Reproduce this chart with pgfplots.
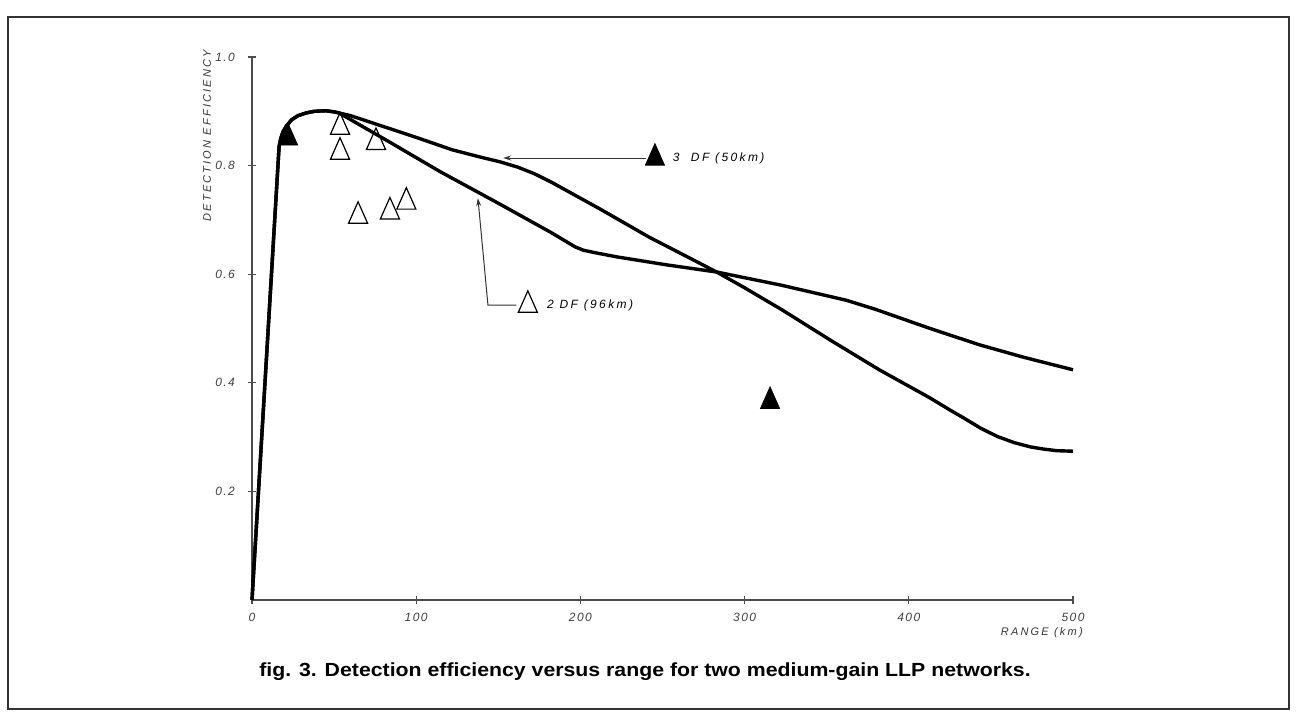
\documentclass[border=0pt]{standalone}
\usepackage{pgfplots}
\pgfplotsset{compat=1.18}
\usetikzlibrary{arrows.meta}
\usepackage{fontspec}
\setmainfont{Liberation Sans}
\newfontfamily\tickfont[LetterSpace=12]{Liberation Sans}
\newfontfamily\spaced[LetterSpace=20]{Liberation Sans}
\begin{document}
\begin{tikzpicture}
\begin{axis}[
  at={(0,0)}, anchor=south west,
  scale only axis, width=410.5pt, height=271.5pt,
  xmin=0, xmax=500, ymin=0, ymax=1,
  axis lines*=left,
  axis line style={black!70, line width=0.6pt},
  xtick={0,100,...,500}, ytick={0.2,0.4,0.6,0.8,1.0},
  tick align=center, major tick length=4pt,
  tick style={black!70, line width=0.6pt},
  /pgf/number format/assume math mode=true,
  ticklabel style={font=\tickfont\itshape\fontsize{6}{7}\selectfont, text=black!75},
  yticklabel style={/pgf/number format/.cd, fixed, fixed zerofill, precision=1, /tikz/.cd, xshift=-3pt},
  xticklabel style={yshift=-1pt},
  clip=false,
]
% 3 DF (50 km) curve
\addplot[black, line width=1.7pt, line join=round] coordinates {
(0,0) (16.5,0.835) (17.5,0.850) (19,0.863) (21,0.873) (24,0.884) (28,0.892) (33,0.897)
(38,0.900) (45,0.901) (50,0.899) (53,0.897)
(60,0.892) (74,0.878) (100,0.852) (122,0.829) (140,0.815) (151,0.807) (162,0.797) (172,0.785)
(182,0.770) (197,0.745) (212,0.720) (242,0.668) (260,0.640) (283,0.604) (300,0.575) (323,0.534)
(352,0.479) (382,0.424) (413,0.372) (425,0.350) (433,0.336) (444,0.316) (454,0.301) (464,0.290)
(474,0.282) (482,0.278) (490,0.275) (500,0.274)
};
% 2 DF (96 km) curve
\addplot[black, line width=1.7pt, line join=round] coordinates {
(0,0) (16.5,0.835) (17.5,0.850) (19,0.863) (21,0.873) (24,0.884) (28,0.892) (33,0.897)
(38,0.900) (45,0.901) (50,0.899) (53,0.897)
(84,0.843) (114.5,0.789) (151,0.729) (182,0.677) (192,0.659) (197,0.650) (202,0.644)
(210,0.639) (222,0.632) (253,0.617) (283,0.604) (322,0.580) (362,0.552) (380,0.535)
(413,0.500) (443,0.470) (470,0.447) (500,0.424)
};
% 2 DF data points (open triangles)
\addplot[only marks, mark=triangle, mark size=5.5pt,
  mark options={yscale=1.3, line width=0.6pt, draw=black, fill=white}] coordinates {
(53.6,0.871) (53.6,0.825) (75.5,0.843) (64.6,0.707) (84,0.715) (94,0.733) (168,0.543)
};
% 3 DF data points (filled triangles)
\addplot[only marks, mark=triangle*, mark size=5.5pt,
  mark options={yscale=1.3, draw=black, fill=black}] coordinates {
(22,0.851) (315.5,0.366) (245.4,0.814)
};
% annotations
\draw[black!80, line width=0.5pt, -{Stealth[length=4pt, width=2.5pt]}] (axis cs:240,0.814) -- (axis cs:153,0.814);
\draw[black!80, line width=0.5pt, -{Stealth[length=4pt, width=2.5pt]}] (axis cs:161,0.543) -- (axis cs:143.7,0.543) -- (axis cs:137.6,0.74);
\node[anchor=west, font=\spaced\itshape\fontsize{6}{7}\selectfont] at (axis cs:252,0.814) {3\ \ DF (50km)};
\node[anchor=west, font=\spaced\itshape\fontsize{6}{7}\selectfont] at (axis cs:175.5,0.543) {2 DF (96km)};
\node[rotate=90, font=\spaced\itshape\fontsize{5.5}{6}\selectfont, text=black!80] at (axis cs:-27.4,0.855) {DETECTION EFFICIENCY};
\node[font=\spaced\itshape\fontsize{5.5}{6}\selectfont, text=black!80] at (axis cs:481,-0.061) {RANGE (km)};
\end{axis}
\draw[black!80, line width=0.9pt] (-122pt,291.5pt) rectangle (518.5pt,-54.5pt);
\node[xscale=1.12, font=\bfseries\fontsize{9.5}{11}\selectfont] at (196.5pt,-36pt) {fig. 3. Detection efficiency versus range for two medium-gain LLP networks.};
\path[use as bounding box] (-126pt,-57pt) rectangle (522pt,300pt);
\end{tikzpicture}
\end{document}
